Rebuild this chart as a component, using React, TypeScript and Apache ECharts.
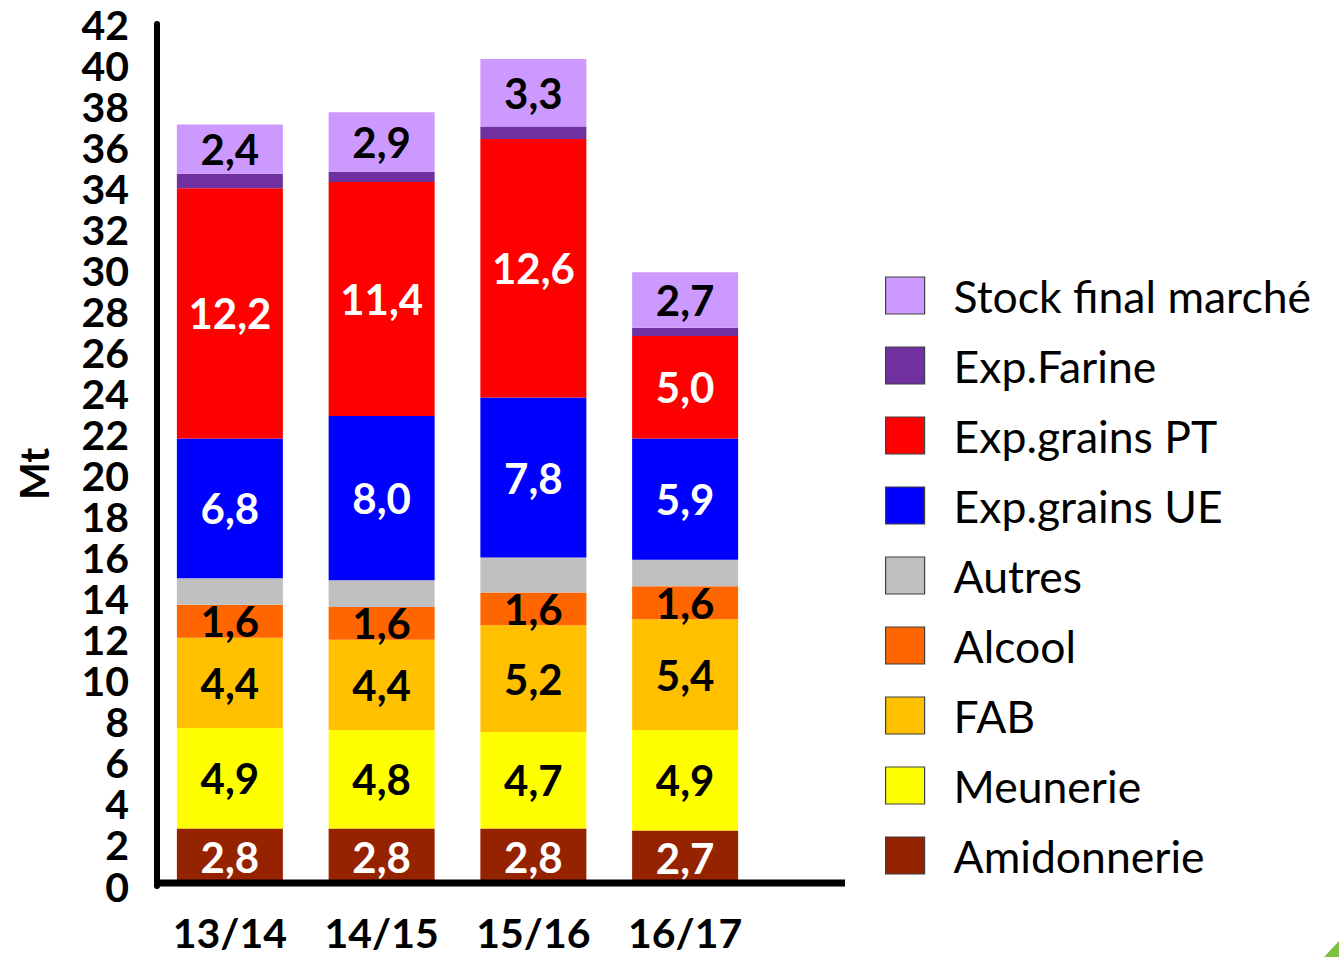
import React, { useEffect, useRef } from "react";
import * as echarts from "echarts";

const categories = ["13/14", "14/15", "15/16", "16/17"];
const amidonnerie = [2.8, 2.8, 2.8, 2.7];
const meunerie = [4.9, 4.8, 4.7, 4.9];
const fab = [4.4, 4.4, 5.2, 5.4];
const alcool = [1.6, 1.6, 1.6, 1.6];
const autres = [1.3, 1.3, 1.7, 1.3];
const expGrainsUE = [6.8, 8.0, 7.8, 5.9];
const expGrainsPT = [12.2, 11.4, 12.6, 5.0];
const expFarine = [0.7, 0.5, 0.6, 0.4];
const stockFinal = [2.4, 2.9, 3.3, 2.7];

const legendOrder = [
  "Stock final marché",
  "Exp.Farine",
  "Exp.grains PT",
  "Exp.grains UE",
  "Autres",
  "Alcool",
  "FAB",
  "Meunerie",
  "Amidonnerie",
];

const FONT = "Lato, 'Open Sans', sans-serif";

type SeriesDef = { name: string; data: number[]; color: string; label: string | null };

const seriesDefs: SeriesDef[] = [
  { name: "Amidonnerie", data: amidonnerie, color: "#952300", label: "#ffffff" },
  { name: "Meunerie", data: meunerie, color: "#FFFF00", label: "#000000" },
  { name: "FAB", data: fab, color: "#FFC000", label: "#000000" },
  { name: "Alcool", data: alcool, color: "#FF6600", label: "#000000" },
  { name: "Autres", data: autres, color: "#C0C0C0", label: null },
  { name: "Exp.grains UE", data: expGrainsUE, color: "#0000FF", label: "#ffffff" },
  { name: "Exp.grains PT", data: expGrainsPT, color: "#FF0000", label: "#ffffff" },
  { name: "Exp.Farine", data: expFarine, color: "#7030A0", label: null },
  { name: "Stock final marché", data: stockFinal, color: "#CC99FF", label: "#000000" },
];

export default function App() {
  const ref = useRef<HTMLDivElement>(null);

  useEffect(() => {
    if (!ref.current) return;
    const chart = echarts.init(ref.current, undefined, { renderer: "svg" });
    const option = {
      animation: false,
      backgroundColor: "#ffffff",
      textStyle: { fontFamily: FONT },
      grid: { left: 154, width: 607, top: 24, bottom: 71, containLabel: false },
      legend: {
        data: legendOrder,
        orient: "vertical",
        left: 880,
        top: 268,
        icon: "rect",
        itemWidth: 39,
        itemHeight: 37,
        itemGap: 25,
        selectedMode: false,
        itemStyle: { borderColor: "#404040", borderWidth: 1.2 },
        textStyle: {
          fontFamily: FONT,
          fontSize: 44.5,
          color: "#000000",
          lineHeight: 44,
          padding: [0, 0, 0, 24],
        },
      },
      xAxis: {
        type: "category",
        data: categories,
        axisLine: { show: false },
        axisTick: { show: false },
        axisLabel: {
          fontFamily: FONT,
          fontSize: 41,
          fontWeight: "bold",
          color: "#000000",
          margin: 26,
        },
      },
      yAxis: {
        type: "value",
        min: 0,
        max: 42,
        interval: 2,
        offset: -3,
        name: "Mt",
        nameLocation: "middle",
        nameRotate: 90,
        nameGap: 103,
        nameTextStyle: {
          fontFamily: FONT,
          fontSize: 40,
          fontWeight: "bold",
          color: "#000000",
          padding: [0, 38, 0, 0],
        },
        splitLine: { show: false },
        axisTick: { show: false },
        axisLine: { show: true, lineStyle: { color: "#000000", width: 6 } },
        axisLabel: {
          show: true,
          showMinLabel: true,
          showMaxLabel: true,
          hideOverlap: false,
          fontFamily: FONT,
          fontSize: 41,
          fontWeight: "bold",
          color: "#000000",
          margin: 28,
        },
      },
      series: seriesDefs.map((s) => ({
        name: s.name,
        type: "bar",
        stack: "total",
        barWidth: 106,
        data: s.data,
        itemStyle: { color: s.color },
        label: s.label
          ? {
              show: true,
              position: "inside",
              color: s.label,
              fontFamily: FONT,
              fontSize: 42,
              fontWeight: "bold",
              formatter: (p: any) => Number(p.value).toFixed(1).replace(".", ","),
            }
          : { show: false },
      })),
      graphic: [
        {
          type: "line",
          z: 100,
          shape: { x1: 155, y1: 883, x2: 845, y2: 883 },
          style: { stroke: "#000000", lineWidth: 7 },
        },
        {
          type: "polygon",
          z: 100,
          shape: { points: [[1339, 941], [1339, 957], [1324, 957]] },
          style: { fill: "#7DC242" },
        },
      ],
    };
    chart.setOption(option as any);
    return () => chart.dispose();
  }, []);

  return (
    <div
      ref={ref}
      style={{ position: "fixed", left: 0, top: 0, width: 1339, height: 957, background: "#fff" }}
    />
  );
}
